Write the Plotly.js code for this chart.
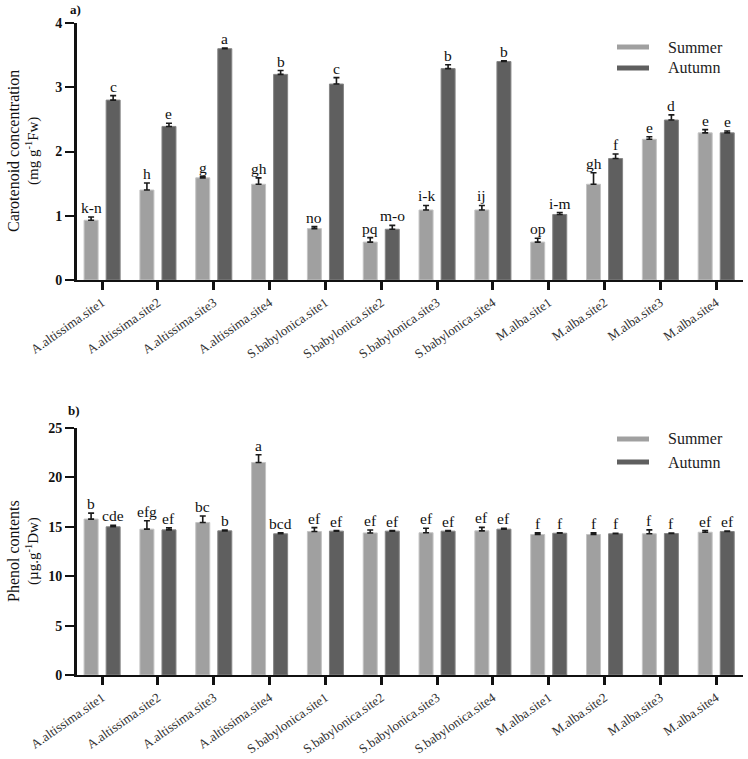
<!DOCTYPE html>
<html>
<head>
<meta charset="utf-8">
<script src="https://cdn.plot.ly/plotly-3.0.1.min.js"></script>
<style>html,body{margin:0;padding:0;background:#fff}#chart{width:748px;height:759px}</style>
</head>
<body>
<div id="chart"></div>
<script>
// ---------- DATA ----------
const categories = ["A.altissima.site1","A.altissima.site2","A.altissima.site3","A.altissima.site4",
  "S.babylonica.site1","S.babylonica.site2","S.babylonica.site3","S.babylonica.site4",
  "M.alba.site1","M.alba.site2","M.alba.site3","M.alba.site4"];

// Panel a) Carotenoid concentration (mg g-1 Fw)
const caroSummer    = [0.93, 1.40, 1.59, 1.49, 0.80, 0.59, 1.09, 1.09, 0.59, 1.49, 2.19, 2.29];
const caroSummerErr = [0.05, 0.11, 0.02, 0.10, 0.03, 0.07, 0.07, 0.07, 0.06, 0.18, 0.04, 0.05];
const caroAutumn    = [2.80, 2.39, 3.60, 3.20, 3.05, 0.79, 3.29, 3.40, 1.02, 1.89, 2.49, 2.29];
const caroAutumnErr = [0.07, 0.05, 0.01, 0.06, 0.10, 0.06, 0.06, 0.01, 0.03, 0.07, 0.08, 0.03];
const caroSummerLetters = ["k-n","h","g","gh","no","pq","i-k","ij","op","gh","e","e"];
const caroAutumnLetters = ["c","e","a","b","c","m-o","b","b","i-m","f","d","e"];

// Panel b) Phenol contents (µg g-1 Dw)
const phenSummer    = [15.78, 14.76, 15.43, 21.51, 14.52, 14.38, 14.40, 14.59, 14.22, 14.22, 14.29, 14.45];
const phenSummerErr = [0.60, 0.85, 0.67, 0.78, 0.40, 0.30, 0.45, 0.35, 0.17, 0.17, 0.40, 0.17];
const phenAutumn    = [15.00, 14.69, 14.59, 14.29, 14.56, 14.56, 14.56, 14.76, 14.35, 14.29, 14.32, 14.52];
const phenAutumnErr = [0.15, 0.20, 0.08, 0.10, 0.05, 0.05, 0.05, 0.08, 0.05, 0.05, 0.05, 0.05];
const phenSummerLetters = ["b","efg","bc","a","ef","ef","ef","ef","f","f","f","ef"];
const phenAutumnLetters = ["cde","ef","b","bcd","ef","ef","ef","ef","f","f","f","ef"];

const seriesNames = ["Summer","Autumn"];
const yTicksA = [0,1,2,3,4];
const yTicksB = [0,5,10,15,20,25];

// ---------- STYLE ----------
const W = 748, H = 759;
const colSummer = "#a0a0a0", colAutumn = "#5f5f5f";
const serif = "Liberation Serif, Times New Roman, serif";
const px = v => v / W, py = v => 1 - v / H;
const xDom = [px(77), px(743)];
const domA = [py(280), py(23)];
const domB = [py(675), py(428)];
const OFF = 0.197;

function barTrace(y, err, color, edge, name, xa, ya) {
  return {
    type: "bar", x: categories, y: y, name: name, xaxis: xa, yaxis: ya, showlegend: false,
    marker: {color: color, line: {color: edge, width: 1}},
    error_y: {type: "data", array: err, arrayminus: err.map(() => 0), symmetric: false,
              color: "#1a1a1a", thickness: 1.6, width: 3},
    hoverinfo: "x+y"
  };
}

const data = [
  barTrace(caroSummer, caroSummerErr, colSummer, "#c4c4c4", seriesNames[0], "x", "y"),
  barTrace(caroAutumn, caroAutumnErr, colAutumn, "#858585", seriesNames[1], "x", "y"),
  barTrace(phenSummer, phenSummerErr, colSummer, "#c4c4c4", seriesNames[0], "x2", "y2"),
  barTrace(phenAutumn, phenAutumnErr, colAutumn, "#858585", seriesNames[1], "x2", "y2")
];

const annotations = [];
function letters(vals, errs, labs, off, xr, yr) {
  labs.forEach((t, i) => annotations.push({
    xref: xr, yref: yr, x: i + off, y: vals[i] + errs[i], text: t, showarrow: false,
    xanchor: "center", yanchor: "bottom", yshift: -1,
    font: {family: serif, size: 15.5, color: "#111"}
  }));
}
letters(caroSummer, caroSummerErr, caroSummerLetters, -OFF, "x", "y");
letters(caroAutumn, caroAutumnErr, caroAutumnLetters, OFF, "x", "y");
letters(phenSummer, phenSummerErr, phenSummerLetters, -OFF, "x2", "y2");
letters(phenAutumn, phenAutumnErr, phenAutumnLetters, OFF, "x2", "y2");

// axis titles
function ytitle(line1, line2, cy) {
  annotations.push({xref: "paper", yref: "paper", x: px(13), y: py(cy), text: line1, textangle: -90,
    showarrow: false, xanchor: "center", yanchor: "middle", font: {family: serif, size: 16, color: "#111"}});
  annotations.push({xref: "paper", yref: "paper", x: px(32), y: py(cy), text: line2, textangle: -90,
    showarrow: false, xanchor: "center", yanchor: "middle", font: {family: serif, size: 15, color: "#111"}});
}
ytitle("Carotenoid concentration", "(mg g<sup>-1</sup>Fw)", 151);
ytitle("Phenol contents", "(µg.g<sup>-1</sup>Dw)", 551);

// panel labels
annotations.push({xref: "paper", yref: "paper", x: px(68), y: py(9), text: "<b>a)</b>", showarrow: false,
  xanchor: "left", yanchor: "middle", font: {family: serif, size: 13, color: "#111"}});
annotations.push({xref: "paper", yref: "paper", x: px(66), y: py(410), text: "<b>b)</b>", showarrow: false,
  xanchor: "left", yanchor: "middle", font: {family: serif, size: 13, color: "#111"}});

// custom legends
const shapes = [];
function legend(y1, y2) {
  [[y1, colSummer, seriesNames[0]], [y2, colAutumn, seriesNames[1]]].forEach(([yy, c, t]) => {
    shapes.push({type: "rect", xref: "paper", yref: "paper", x0: px(617), x1: px(649),
      y0: py(yy + 2.5), y1: py(yy - 2.5), fillcolor: c, line: {width: 0}});
    annotations.push({xref: "paper", yref: "paper", x: px(666), y: py(yy), text: t, showarrow: false,
      xanchor: "left", yanchor: "middle", font: {family: serif, size: 16, color: "#222"}});
  });
}
legend(47, 68);
legend(439, 462);

function xaxis(anchor) {
  return {domain: xDom, anchor: anchor, type: "category", range: [-0.45, 11.48],
    showline: true, linecolor: "#111", linewidth: 2, ticks: "outside", ticklen: 8, tickwidth: 3,
    tickcolor: "#111", tickangle: -35, showgrid: false, zeroline: false, fixedrange: true,
    tickfont: {family: serif, size: 13, color: "#333"}, automargin: false};
}
function yaxis(anchor, dom, range, tv) {
  return {domain: dom, anchor: anchor, range: range, tickvals: tv, ticktext: tv.map(v => "<b>" + v + "</b>"),
    showline: true, linecolor: "#111", linewidth: 3, ticks: "outside", ticklen: 9, tickwidth: 2,
    tickcolor: "#111", showgrid: false, zeroline: false, fixedrange: true,
    tickfont: {family: serif, size: 14, color: "#111"}, automargin: false};
}

const layout = {
  width: W, height: H, margin: {l: 0, r: 0, t: 0, b: 0},
  paper_bgcolor: "#fff", plot_bgcolor: "#fff",
  barmode: "group", bargap: 0.21, bargroupgap: 0.365,
  showlegend: false,
  xaxis: xaxis("y"), yaxis: yaxis("x", domA, [0, 4], yTicksA),
  xaxis2: xaxis("y2"), yaxis2: yaxis("x2", domB, [0, 25], yTicksB),
  annotations: annotations, shapes: shapes
};

Plotly.newPlot("chart", data, layout, {displayModeBar: false, staticPlot: true});
</script>
</body>
</html>
